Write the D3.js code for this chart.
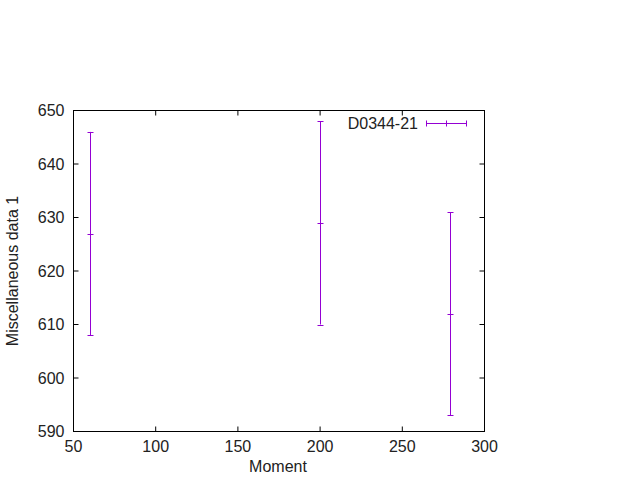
<!DOCTYPE html>
<html><head><meta charset="utf-8">
<script src="https://cdn.jsdelivr.net/npm/d3@7"></script>
<style>body{margin:0;background:#fff}svg{display:block}text{font-family:"Liberation Sans",Arial,sans-serif;font-size:16px;fill:#222}</style>
</head><body><svg width="640" height="480"></svg>
<script>
const xs = [60, 200, 279];
const ys = [627, 629, 612];
const yLow = [608, 610, 593];
const yHigh = [646, 648, 631];
const xTicks = [50, 100, 150, 200, 250, 300];
const yTicks = [590, 600, 610, 620, 630, 640, 650];
const seriesName = "D0344-21";
const color = "#9400d3";

const svg = d3.select("svg");
const L = 73.5, R = 484.5, T = 110.5, B = 431.5;
const x = d3.scaleLinear().domain([50, 300]).range([L, R]);
const y = d3.scaleLinear().domain([590, 650]).range([B, T]);
const tl = 5;

const g = svg.append("g");
xTicks.forEach(v => {
  g.append("line").attr("x1", x(v)).attr("x2", x(v)).attr("y1", B).attr("y2", B - tl).attr("stroke", "#000");
  g.append("line").attr("x1", x(v)).attr("x2", x(v)).attr("y1", T).attr("y2", T + tl).attr("stroke", "#000");
  g.append("text").attr("x", x(v)).attr("y", B + 20).attr("text-anchor", "middle").text(v);
});
yTicks.forEach(v => {
  g.append("line").attr("x1", L).attr("x2", L + tl).attr("y1", y(v)).attr("y2", y(v)).attr("stroke", "#000");
  g.append("line").attr("x1", R).attr("x2", R - tl).attr("y1", y(v)).attr("y2", y(v)).attr("stroke", "#000");
  g.append("text").attr("x", L - 9).attr("y", y(v) + 5.5).attr("text-anchor", "end").text(v);
});
g.append("rect").attr("x", L).attr("y", T).attr("width", R - L).attr("height", B - T).attr("fill", "none").attr("stroke", "#000");

g.append("text").attr("x", 278).attr("y", 472).attr("text-anchor", "middle").text("Moment");
g.append("text").attr("transform", `translate(18,${(T + B) / 2}) rotate(-90)`).attr("text-anchor", "middle").text("Miscellaneous data 1");

const cw = 3;
xs.forEach((xv, i) => {
  const px = Math.round(x(xv)) + 0.5;
  g.append("line").attr("x1", px).attr("x2", px).attr("y1", y(yLow[i])).attr("y2", y(yHigh[i])).attr("stroke", color);
  [yLow[i], yHigh[i], ys[i]].forEach(v => {
    const py = Math.round(y(v)) + 0.5;
    g.append("line").attr("x1", px - cw).attr("x2", px + cw).attr("y1", py).attr("y2", py).attr("stroke", color);
  });
});

const ly = 123.5;
g.append("text").attr("x", 418).attr("y", ly + 5.5).attr("text-anchor", "end").text(seriesName);
g.append("line").attr("x1", 426).attr("x2", 466).attr("y1", ly).attr("y2", ly).attr("stroke", color);
[426.5, 446.5, 466.5].forEach(px => {
  g.append("line").attr("x1", px).attr("x2", px).attr("y1", ly - 3).attr("y2", ly + 3).attr("stroke", color);
});
</script></body></html>
